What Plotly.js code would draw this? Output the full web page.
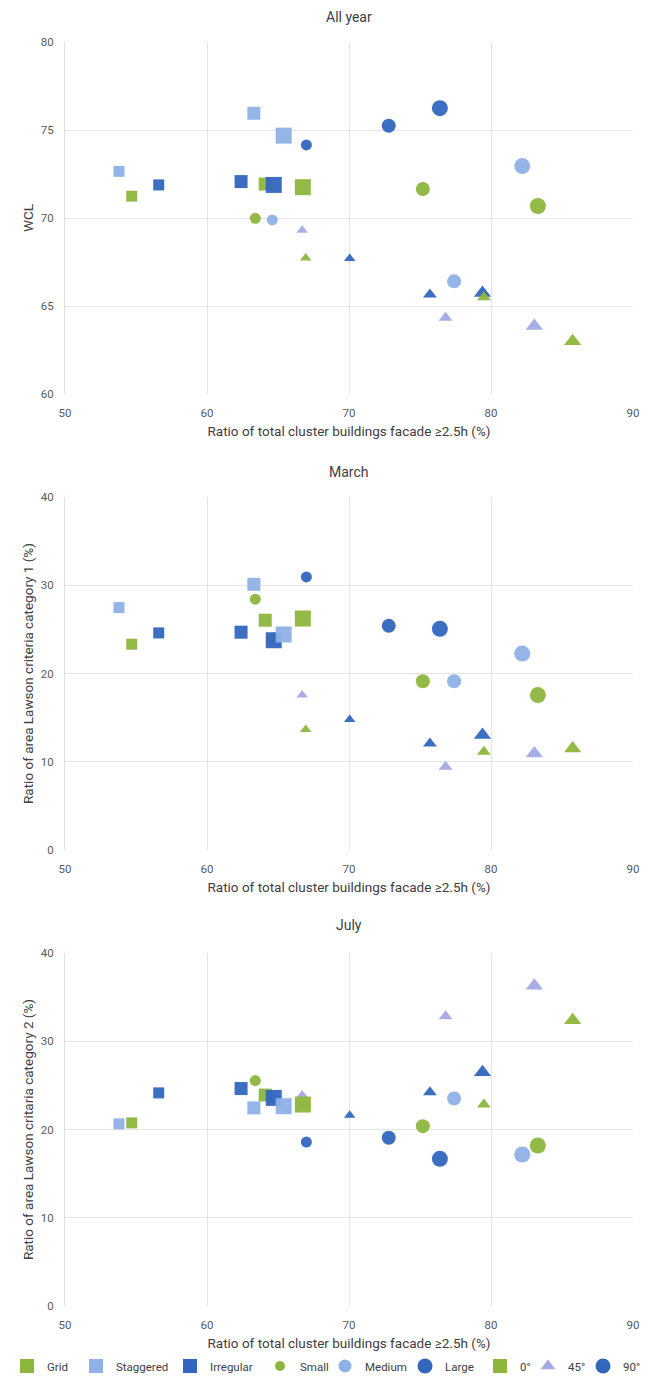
<!DOCTYPE html>
<html>
<head>
<meta charset="utf-8">
<script src="https://cdn.plot.ly/plotly-3.0.1.min.js"></script>
<style>html,body{margin:0;padding:0;background:#fff;}#chart{width:651px;height:1385px;}</style>
</head>
<body>
<div id="chart"></div>
<script>
// 27 cluster configurations: layout (colour), size (marker size), orientation (marker shape)
const layoutType = ["Staggered","Grid","Irregular","Irregular","Staggered","Irregular","Grid","Staggered","Grid",
                    "Grid","Staggered","Irregular","Irregular","Grid","Irregular","Staggered","Staggered","Grid",
                    "Staggered","Grid","Irregular","Irregular","Staggered","Grid","Irregular","Staggered","Grid"];
const sizeType   = ["Small","Small","Small","Medium","Medium","Large","Medium","Large","Large",
                    "Small","Small","Small","Medium","Medium","Large","Medium","Large","Large",
                    "Small","Small","Small","Medium","Medium","Medium","Large","Large","Large"];
const orientType = ["45°","45°","45°","45°","45°","45°","45°","45°","45°",
                    "90°","90°","90°","90°","90°","90°","90°","90°","90°",
                    "0°","0°","0°","0°","0°","0°","0°","0°","0°"];
// x: ratio of total cluster buildings facade >= 2.5h (%)
const facadeRatio = [66.7,66.95,70.05,75.7,76.8,79.4,79.5,83.05,85.75,
                     63.4,64.6,67.0,72.8,75.2,76.4,77.4,82.2,83.3,
                     53.8,54.7,56.6,62.4,63.3,64.1,64.7,65.4,66.75];
// y values per panel
const wclAllYear = [69.3,67.73,67.7,65.65,64.33,65.74,65.5,63.86,63.0,
                    69.98,69.89,74.15,75.24,71.65,76.24,66.4,72.95,70.68,
                    72.65,71.24,71.88,72.07,75.95,71.93,71.88,74.68,71.75];
const lawsonCat1March = [17.55,13.66,14.79,12.08,9.43,13.02,11.13,10.94,11.51,
                         28.42,24.0,30.94,25.4,19.13,25.06,19.13,22.26,17.55,
                         27.47,23.32,24.6,24.68,30.11,26.04,23.77,24.42,26.23];
const lawsonCat2July = [23.9,22.8,21.62,24.23,32.83,26.49,22.83,36.3,32.38,
                        25.55,23.6,18.57,19.06,20.38,16.68,23.51,17.17,18.19,
                        20.64,20.75,24.15,24.64,22.45,23.9,23.58,22.64,22.83];
const panelTitles = ["All year","March","July"];
const yTitles = ["WCL","Ratio of area Lawson criteria category 1 (%)","Ratio of area Lawson critaria category 2 (%)"];
const xTitle = "Ratio of total cluster buildings facade ≥2.5h (%)";
const yRanges = [[60,80],[0,40],[0,40]];
const yDtick = [5,10,10];
const legendNames = ["Grid","Staggered","Irregular","Small","Medium","Large","0°","45°","90°"];

const colorOf = {Grid:"#8db63c", Staggered:"#8fb1e8", Irregular:"#3266bf"};
const symbolOf = {"0°":"square","45°":"triangle-up","90°":"circle"};
const sizeOf = {
  "0°": {Small:11, Medium:13, Large:16},
  "45°":{Small:10, Medium:12, Large:15},
  "90°":{Small:11, Medium:14, Large:16}
};
const triStaggered = "#a2a9e4";

function colorFor(i){
  if (orientType[i]==="45°" && layoutType[i]==="Staggered") return triStaggered;
  return colorOf[layoutType[i]];
}

const yData = [wclAllYear, lawsonCat1March, lawsonCat2July];
const traces = [];
yData.forEach((ys, p) => {
  traces.push({
    type:"scatter", mode:"markers",
    x: facadeRatio, y: ys,
    xaxis: p===0?"x":"x"+(p+1), yaxis: p===0?"y":"y"+(p+1),
    showlegend:false,
    marker:{
      symbol: orientType.map(o=>symbolOf[o]),
      color: facadeRatio.map((_,i)=>colorFor(i)),
      size: facadeRatio.map((_,i)=>sizeOf[orientType[i]][sizeType[i]]),
      opacity:0.95,
      line:{width:0}
    },
    hoverinfo:"x+y"
  });
});

// legend entries (one small legend per entry so the row matches the reference spacing)
const legendStyle = [
  {symbol:"square", color:colorOf.Grid, size:14},
  {symbol:"square", color:colorOf.Staggered, size:14},
  {symbol:"square", color:colorOf.Irregular, size:14},
  {symbol:"circle", color:colorOf.Grid, size:10},
  {symbol:"circle", color:colorOf.Staggered, size:13},
  {symbol:"circle", color:colorOf.Irregular, size:15},
  {symbol:"square", color:colorOf.Grid, size:14},
  {symbol:"triangle-up", color:triStaggered, size:13},
  {symbol:"circle", color:colorOf.Irregular, size:15}
];
const legendIconX = [27,96,190,280,345,425,500,548,603];
legendNames.forEach((n,i)=>{
  traces.push({type:"scatter", mode:"markers", x:[null], y:[null], name:n,
    marker:legendStyle[i], showlegend:true, xaxis:"x3", yaxis:"y3",
    legend: i===0 ? "legend" : "legend"+(i+1)});
});

const H = 1385, W = 651, ML = 65, MR = 18;
const PW = W-ML-MR;
const pxDom = [[42,394],[497,850],[953,1306]];
const font = {family:"Roboto, Arial, sans-serif", color:"#595959", size:11};
const layout = {
  width:W, height:H,
  margin:{l:ML, r:MR, t:0, b:0},
  paper_bgcolor:"#fff", plot_bgcolor:"#fff",
  font: font,
  showlegend:true,
  annotations: panelTitles.map((t,p)=>({
    text:t, xref:"paper", yref:"paper", x:0.5, y:1-[17,472,925][p]/H,
    xanchor:"center", yanchor:"middle", showarrow:false,
    font:{family:"Roboto, Arial, sans-serif", size:14, color:"#404040"}
  }))
};
legendNames.forEach((n,i)=>{
  const key = i===0 ? "legend" : "legend"+(i+1);
  layout[key] = {orientation:"h", x:(legendIconX[i]-20-ML)/PW, xanchor:"left",
    y:(H-1366)/H, yanchor:"middle", bgcolor:"rgba(0,0,0,0)", borderwidth:0,
    font:{family:"Roboto, Arial, sans-serif", size:11.5, color:"#404040"},
    itemwidth:30};
});
pxDom.forEach((d,p)=>{
  const sfx = p===0?"":String(p+1);
  layout["xaxis"+sfx] = {
    domain:[0,1], anchor:"y"+sfx, range:[50,90], dtick:10, tick0:50,
    showgrid:true, gridcolor:"#e4e4e4", gridwidth:1, zeroline:false,
    showline:false, ticks:"", ticklabelstandoff:10,
    tickfont:{size:11.5, color:"#595959"},
    title:{text:xTitle, standoff:8, font:{size:13.5, color:"#404040"}},
    fixedrange:true
  };
  layout["yaxis"+sfx] = {
    domain:[1-d[1]/H, 1-d[0]/H], anchor:"x"+sfx, range:yRanges[p], dtick:yDtick[p],
    showgrid:true, gridcolor:"#e4e4e4", gridwidth:1, zeroline:false,
    showline:true, linecolor:"#e0e0e0", linewidth:1, ticks:"", ticklabelstandoff:8,
    tickfont:{size:11.5, color:"#595959"},
    title:{text:yTitles[p], standoff:4, font:{size:13.5, color:"#404040"}},
    fixedrange:true
  };
});
Plotly.newPlot("chart", traces, layout, {displayModeBar:false, staticPlot:true});
</script>
</body>
</html>
